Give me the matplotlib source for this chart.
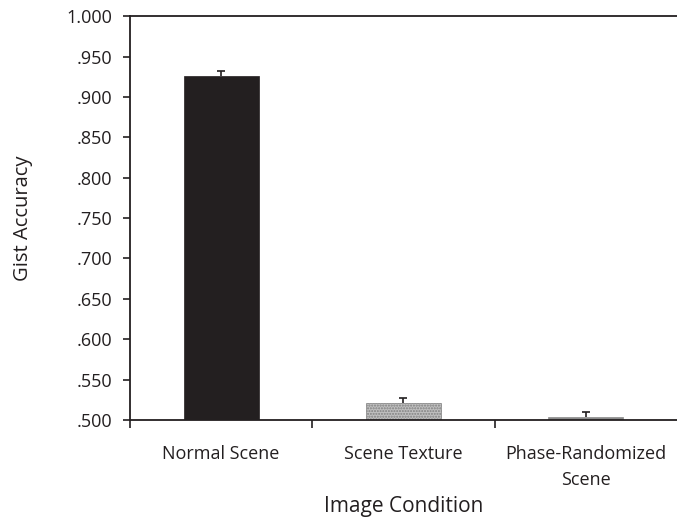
import matplotlib
matplotlib.use("Agg")
import matplotlib.pyplot as plt

plt.rcParams['font.family'] = ['Open Sans', 'DejaVu Sans']

conditions = ["Normal Scene", "Scene Texture", "Phase-Randomized\nScene"]
accuracy = [0.926, 0.521, 0.504]
errors = [0.006, 0.006, 0.006]
yticks = [0.5, 0.55, 0.6, 0.65, 0.7, 0.75, 0.8, 0.85, 0.9, 0.95, 1.0]

fig = plt.figure(figsize=(6.77, 5.23), dpi=100)
ax = fig.add_axes([0.192, 0.197, 0.808, 0.772])

pos = [0, 1, 2]
faces = ["#231f20", "#c0c0c0", "#8a8a8a"]
hatches = [None, "......", None]
edges = ["#231f20", "#808080", "#8a8a8a"]
for x, v, e, fc, h, ec in zip(pos, accuracy, errors, faces, hatches, edges):
    ax.bar(x, v - 0.5, bottom=0.5, width=0.41, color=fc, hatch=h,
           edgecolor=ec, linewidth=0.5, zorder=2)
    _, caps, _ = ax.errorbar(x, v, yerr=[[0], [e]], fmt="none", ecolor="#231f20",
                             elinewidth=1.2, capsize=3, capthick=1.2, zorder=3)
    # only the upper whisker gets a cap
    for c in caps:
        if c.get_ydata()[0] <= v:
            c.set_visible(False)

ax.set_xlim(-0.5, 2.5)
ax.set_ylim(0.5, 1.0)
ax.set_yticks(yticks)
ax.set_yticklabels([("%.3f" % t).lstrip("0") if t < 1 else "%.3f" % t for t in yticks])

# category ticks sit between the bars
ax.set_xticks([-0.5, 0.5, 1.5])
ax.set_xticklabels([])
ax.set_xticks(pos, minor=True)
ax.set_xticklabels(conditions, minor=True, linespacing=1.6)
ax.tick_params(axis="x", which="minor", length=0, pad=18, labelsize=13, colors="#231f20")
ax.tick_params(axis="x", which="major", length=6, width=1.2, direction="out", color="#231f20")
ax.tick_params(axis="y", length=5, width=1.2, direction="out", labelsize=13,
               color="#231f20", labelcolor="#231f20", pad=8)

for s in ["left", "bottom", "top"]:
    ax.spines[s].set_linewidth(1.3)
    ax.spines[s].set_color("#231f20")
ax.spines["right"].set_visible(False)

ax.set_ylabel("Gist Accuracy", fontsize=14.5, color="#231f20", labelpad=24)
ax.set_xlabel("Image Condition", fontsize=15, color="#231f20", labelpad=5)

fig.savefig("out.png", dpi=100)
